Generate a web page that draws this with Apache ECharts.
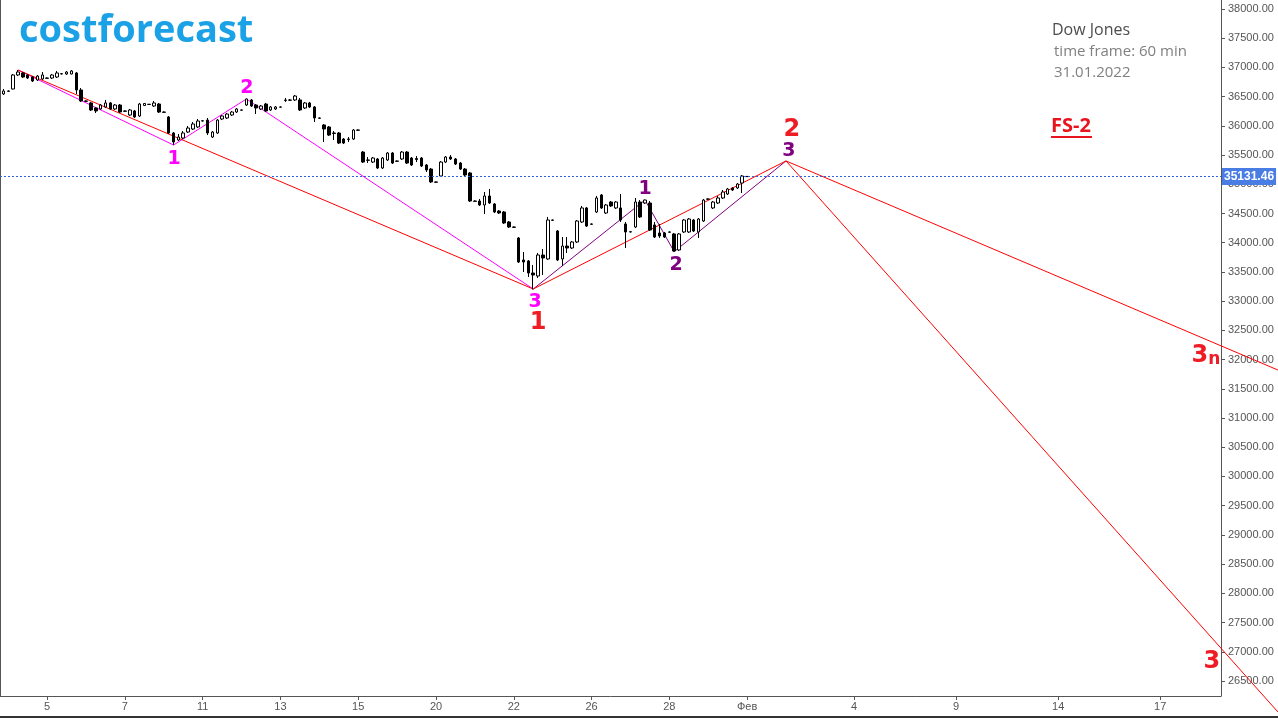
<!DOCTYPE html>
<html><head><meta charset="utf-8">
<script src="https://cdn.jsdelivr.net/npm/echarts@6/dist/echarts.min.js"></script>
<style>html,body{margin:0;padding:0;background:#fff}#c{width:1278px;height:718px}</style>
</head><body><div id="c"></div><script>
// Hourly Dow Jones candles: [open, close, low, high]; x = bar index
const ohlc = [
[36546,36597,36529,36631],[36597,36592,36585,36605],[36631,36871,36625,36888],[36871,36922,36853,36956],
[36905,36836,36819,36922],[36871,36819,36802,36888],[36836,36768,36751,36853],[36785,36853,36768,36871],
[36802,36871,36785,36922],[36819,36814,36810,36828],[36819,36871,36802,36888],[36836,36905,36819,36939],
[36888,36893,36880,36897],[36888,36922,36871,36939],[36888,36939,36880,36956],[36905,36614,36546,36922],
[36614,36426,36409,36648],[36426,36421,36412,36434],[36392,36272,36255,36409],[36306,36255,36220,36323],
[36289,36357,36272,36374],[36323,36392,36306,36443],[36392,36289,36272,36409],[36289,36357,36272,36374],
[36357,36237,36220,36374],[36255,36250,36242,36263],[36186,36272,36169,36289],[36255,36152,36135,36272],
[36169,36374,36152,36392],[36349,36383,36340,36392],[36366,36370,36357,36374],[36340,36392,36323,36426],
[36374,36237,36220,36392],[36237,36232,36225,36246],[36152,35878,35861,36169],[35878,35724,35672,35895],
[35758,35809,35741,35861],[35792,35878,35775,35912],[35895,35963,35878,35998],[35946,36032,35929,36066],
[35981,36083,35963,36118],[36083,36088,36075,36092],[36100,35878,35843,36135],[35809,35895,35792,35912],
[35878,36100,35861,36118],[36118,36169,36100,36186],[36135,36203,36118,36220],[36186,36237,36169,36255],
[36237,36289,36220,36306],[36268,36272,36263,36280],[36357,36460,36340,36465],[36443,36340,36323,36460],
[36357,36306,36203,36374],[36289,36340,36272,36357],[36374,36255,36237,36392],[36272,36323,36255,36340],
[36289,36323,36272,36340],[36320,36323,36315,36332],[36434,36443,36409,36477],[36438,36443,36426,36460],
[36443,36511,36426,36529],[36443,36272,36255,36477],[36306,36392,36289,36409],[36392,36323,36306,36409],
[36323,36135,36066,36340],[36135,36130,36122,36143],[36015,35946,35724,36032],[35981,35843,35826,35998],
[35878,35870,35758,35912],[35878,35706,35689,35895],[35775,35706,35689,35792],[35766,35775,35724,35809],
[35775,35929,35758,35946],[35929,35925,35920,35937],[35552,35381,35364,35570],[35416,35411,35364,35467],
[35381,35450,35364,35467],[35433,35279,35261,35450],[35279,35450,35261,35467],[35416,35535,35398,35552],
[35535,35364,35347,35552],[35398,35394,35390,35407],[35433,35552,35416,35570],[35552,35364,35347,35570],
[35450,35330,35313,35467],[35441,35424,35381,35484],[35450,35313,35296,35467],[35330,35245,35211,35347],
[35261,35040,35022,35279],[35040,35035,35031,35048],[35142,35381,35125,35398],[35381,35467,35364,35484],
[35467,35433,35416,35501],[35433,35347,35330,35450],[35364,35261,35245,35381],[35261,35159,35142,35279],
[35194,34714,34697,35211],[34714,34709,34705,34722],[34714,34646,34629,34749],[34646,34800,34492,34868],
[34800,34680,34663,34920],[34663,34526,34509,34680],[34543,34509,34492,34560],[34526,34338,34321,34543],
[34355,34269,34252,34372],[34269,34264,34258,34278],[34081,33670,33653,34098],[33705,33670,33499,33842],
[33688,33482,33414,33705],[33482,33448,33200,33619],[33431,33790,33397,33824],[33790,33739,33448,33893],
[33722,34389,33705,34441],[34389,34384,34380,34397],[34201,33705,33688,34218],[33722,33944,33602,34098],
[33944,33910,33824,34098],[33910,34013,33893,34030],[34013,34372,33996,34389],[34355,34595,34338,34629],
[34595,34286,34269,34612],[34321,34316,34310,34330],[34526,34766,34509,34800],[34817,34595,34577,34834],
[34509,34646,34492,34663],[34697,34629,34612,34714],[34595,34697,34577,34714],[34595,34389,34355,34834],
[34321,34184,33910,34355],[34184,34189,34176,34193],[34269,34697,34252,34766],[34697,34441,34423,34731],
[34680,34731,34663,34740],[34680,34218,34201,34714],[34304,34098,34081,34355],[34167,34115,34081,34321],
[34167,34098,34081,34184],[34184,34180,34176,34193],[34150,33859,33845,34167],[33876,34150,33859,34167],
[34184,34389,34167,34406],[34184,34406,34167,34423],[34389,34201,34184,34406],[34184,34406,34081,34423],
[34372,34731,34355,34749],[34749,34745,34740,34757],[34595,34697,34577,34714],[34680,34766,34663,34800],
[34766,34868,34749,34903],[34834,34920,34817,34937],[34937,34903,34885,34954],[34937,35005,34920,35022],
[35022,35142,34851,35159],[35135,35131.46,35125,35142]
];
const lastPrice = 35131.46;

// x-axis ticks (bar index) and their labels
const tickValues = [9, 25, 41, 57, 73, 89, 105, 121, 137, 153, 175, 196, 217, 238];
const tickLabels = ['5','7','11','13','15','20','22','26','28','Фев','4','9','14','17'];
// y-axis ticks
const priceTicks = [26500,27000,27500,28000,28500,29000,29500,30000,30500,31000,31500,32000,32500,33000,33500,34000,34500,35000,35500,36000,36500,37000,37500,38000];

// wave lines: [bar index, price]
const magentaWave = [[3,36956],[35,35672],[50,36460],[109,33208]];
const purpleWave = [[109,33208],[132,34731],[138,33847],[161,35400]];
const redWave = [[3,36956],[109,33208],[161,35400],[262.2,25970]];
const redWave3n = [[161,35400],[262.2,31822]];

// wave labels: [text, bar index, price]
const magentaLabels = [['1',35.1,35450],['2',50.1,36665],['3',109.4,33003]];
const purpleLabels = [['1',132,34937],['2',138.4,33636],['3',161.6,35587]];
const redLabels = [['1',110,32644],['2',162.2,35946],['3',248.6,26842],['3n',247.4,32079]];

const X_MIN = -0.7, X_MAX = 250.5, X_MAX_FULL = 262.22, Y_MIN = 26243, Y_MAX = 38154;
const MAGENTA = '#ff00ff', PURPLE = '#800080', RED = '#ff0000', RED_TXT = '#ee1c25';

function lineSeries(data, color) {
  return { type:'line', data:data, symbol:'none', clip:false, silent:true, z:3,
    xAxisIndex:1, yAxisIndex:2,
    lineStyle:{ color:color, width:1 } };
}
function labelSeries(data, color, size) {
  return { type:'scatter', symbol:'circle', symbolSize:1, clip:false, silent:true, z:6,
    xAxisIndex:1, yAxisIndex:2,
    itemStyle:{ color:'rgba(0,0,0,0)' },
    data: data.map(d => ({ name:d[0], value:[d[1], d[2]] })),
    label:{ show:true, position:'inside', opacity:1,
      formatter: p => p.name === '3n' ? '{a|3}{b|n}' : '{a|' + p.name + '}',
      rich:{
        a:{ fontSize:size, fontWeight:'bold', fontFamily:'DejaVu Sans', color:color, lineHeight:size+2, verticalAlign:'bottom' },
        b:{ fontSize:Math.round(size*0.72), fontWeight:'bold', fontFamily:'DejaVu Sans', color:color, lineHeight:Math.round(size*0.72)+1, verticalAlign:'bottom' }
      } } };
}

const option = {
  animation:false,
  backgroundColor:'#ffffff',
  grid:[{ left:0, right:57, top:0, bottom:22 }, { left:0, right:0, top:0, bottom:22 }],
  xAxis:[
    { type:'value', min:X_MIN, max:X_MAX, gridIndex:0,
      axisLine:{ show:true, onZero:false, lineStyle:{ color:'#555', width:1 } },
      axisTick:{ show:true, customValues:tickValues, length:4, lineStyle:{ color:'#555' } },
      axisLabel:{ customValues:tickValues, color:'#555', fontSize:11, fontFamily:'Liberation Sans', margin:5,
        formatter: v => { const k = tickValues.indexOf(Math.round(v)); return k >= 0 ? tickLabels[k] : ''; } },
      splitLine:{ show:false } },
    { type:'value', min:X_MIN, max:X_MAX_FULL, gridIndex:1, show:false, splitLine:{ show:false } }
  ],
  yAxis:[
    { type:'value', position:'right', min:Y_MIN, max:Y_MAX, gridIndex:0,
      axisLine:{ show:true, onZero:false, lineStyle:{ color:'#555', width:1 } },
      axisTick:{ show:true, customValues:priceTicks, length:4, lineStyle:{ color:'#555' } },
      axisLabel:{ customValues:priceTicks, color:'#555', fontSize:11, fontFamily:'Liberation Sans', margin:7,
        formatter: v => v.toFixed(2) },
      splitLine:{ show:false } },
    { type:'value', position:'left', min:Y_MIN, max:Y_MAX, gridIndex:0,
      axisLine:{ show:true, onZero:false, lineStyle:{ color:'#555', width:1 } },
      axisTick:{ show:false }, axisLabel:{ show:false }, splitLine:{ show:false } },
    { type:'value', min:Y_MIN, max:Y_MAX, gridIndex:1, show:false, splitLine:{ show:false } }
  ],
  series:[
    { type:'candlestick', z:4, xAxisIndex:0, yAxisIndex:0,
      data: ohlc.map((d, i) => [i, d[0], d[1], d[2], d[3]]),
      barWidth:3,
      itemStyle:{ color:'#ffffff', color0:'#000000', borderColor:'#000000', borderColor0:'#000000', borderColorDoji:'#000000', borderWidth:1 },
      markLine:{ symbol:['none','none'], silent:true, animation:false,
        data:[{ yAxis:lastPrice }],
        lineStyle:{ color:'#2f64e0', width:1, type:[2,2] },
        label:{ show:true, position:'end', distance:1, formatter: () => lastPrice.toFixed(2),
          backgroundColor:'#4a7de3', color:'#ffffff', fontSize:12, fontWeight:'bold', fontFamily:'Liberation Sans', padding:[3,2,2,2] } } },
    lineSeries(magentaWave, MAGENTA),
    lineSeries(purpleWave, PURPLE),
    lineSeries(redWave, RED),
    lineSeries(redWave3n, RED),
    labelSeries(magentaLabels, MAGENTA, 19),
    labelSeries(purpleLabels, PURPLE, 19),
    labelSeries(redLabels, RED_TXT, 24)
  ],
  graphic:[
    { type:'text', x:19, y:31, style:{ text:'costforecast', font:'bold 38px "Open Sans"', fill:'#1ba1e6', verticalAlign:'middle' } },
    { type:'text', x:1052, y:30, style:{ text:'Dow Jones', font:'16px "Open Sans"', fill:'#4d4d4d', verticalAlign:'middle' } },
    { type:'text', x:1054, y:52, style:{ text:'time frame: 60 min', font:'15px "Open Sans"', fill:'#808080', verticalAlign:'middle' } },
    { type:'text', x:1054, y:73, style:{ text:'31.01.2022', font:'15px "Open Sans"', fill:'#808080', verticalAlign:'middle' } },
    { type:'text', x:1051, y:126, style:{ text:'FS-2', font:'bold 20px "Open Sans"', fill:'#e8141f', verticalAlign:'middle' } },
    { type:'rect', shape:{ x:1051, y:136, width:41, height:2 }, style:{ fill:'#e8141f' } },
    { type:'rect', shape:{ x:0, y:716, width:1278, height:2 }, style:{ fill:'#333333' } }
  ]
};
const chart = echarts.init(document.getElementById('c'), null, { renderer:'canvas' });
chart.setOption(option);
</script></body></html>
